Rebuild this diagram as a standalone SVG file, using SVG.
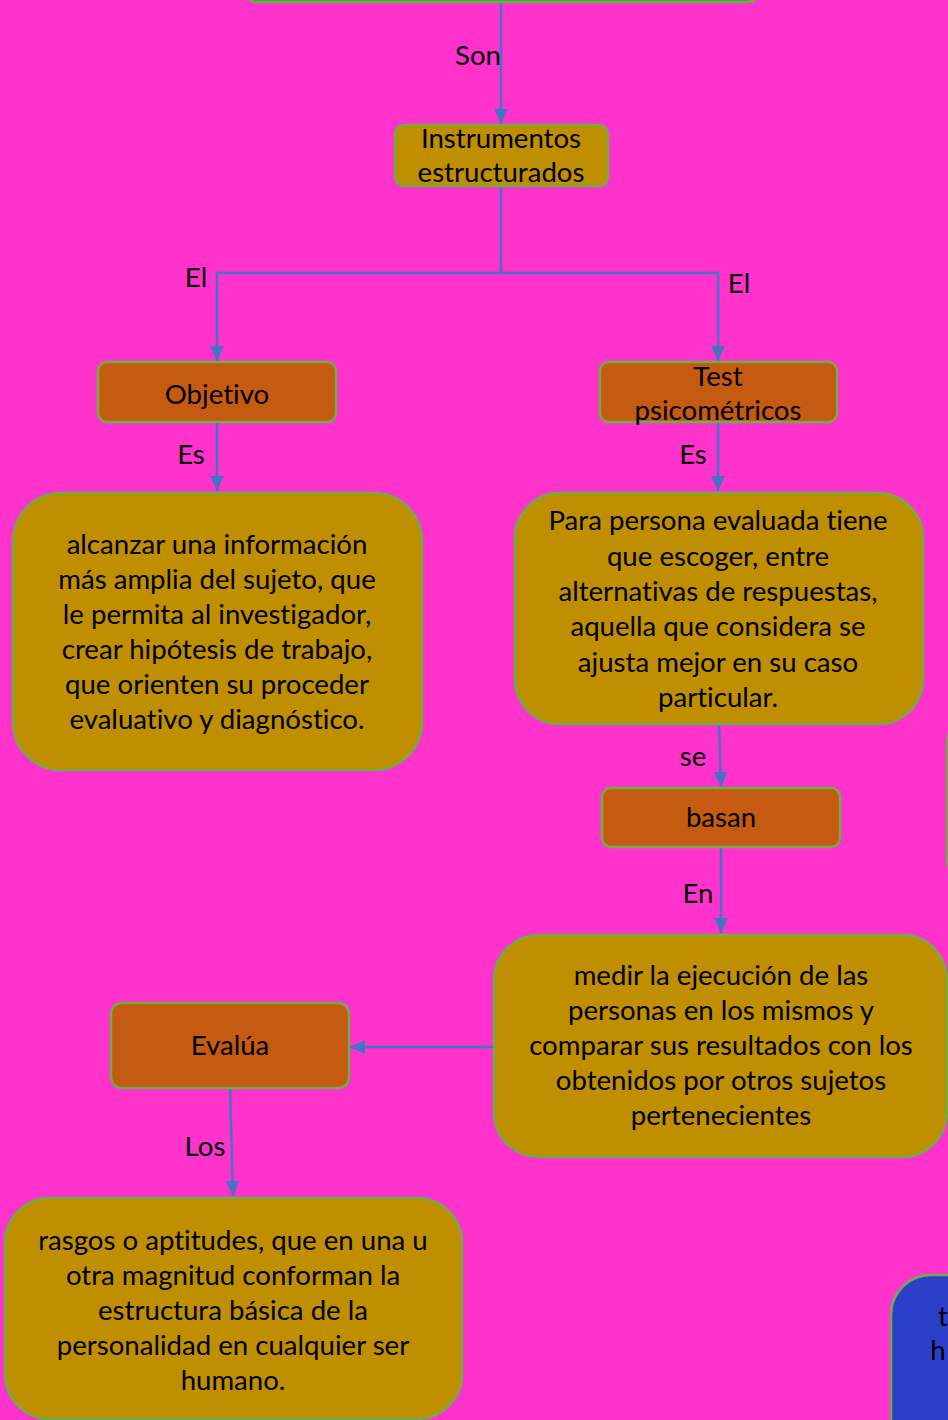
<svg xmlns="http://www.w3.org/2000/svg" width="948" height="1420" viewBox="0 0 948 1420">
<defs>
<marker id="ah" markerUnits="userSpaceOnUse" markerWidth="16" markerHeight="16" viewBox="0 0 16 16" refX="15" refY="8" orient="auto">
<path d="M0,1 L15,8 L0,15 Z" fill="#4472c4"/>
</marker>
<style>
.bg{fill:#ff33cc}
.gold{fill:#bf8f00;stroke:#70ad47;stroke-width:2.5}
.orange{fill:#c55a11;stroke:#70ad47;stroke-width:2.5}
.blue{fill:#2b3fc9;stroke:#70ad47;stroke-width:2.5}
.green{fill:#2fa84f;stroke:#70ad47;stroke-width:2.5}
.conn{fill:none;stroke:#4472c4;stroke-width:2.5}
text{font-family:Lato,"Liberation Sans",sans-serif;font-size:27.6px;fill:#000;text-anchor:middle;font-variant-ligatures:none}
</style>
</defs>
<rect class="bg" x="0" y="0" width="948" height="1420"/>

<g id="connectors">
<path class="conn" d="M501,3 L501,124" marker-end="url(#ah)"/>
<path class="conn" d="M501,186 L501,273 L217,273 L217,361" marker-end="url(#ah)"/>
<path class="conn" d="M501,273 L718,273 L718,361" marker-end="url(#ah)"/>
<path class="conn" d="M217,422 L217,491" marker-end="url(#ah)"/>
<path class="conn" d="M718,422 L718,491" marker-end="url(#ah)"/>
<path class="conn" d="M719,724 L721,787" marker-end="url(#ah)"/>
<path class="conn" d="M721,847 L721,933" marker-end="url(#ah)"/>
<path class="conn" d="M494,1047 L350,1047" marker-end="url(#ah)"/>
<path class="conn" d="M230,1088 L233,1196" marker-end="url(#ah)"/>
<text x="478" y="65">Son</text>
<text x="196" y="287">El</text>
<text x="739" y="293">El</text>
<text x="191" y="464">Es</text>
<text x="693" y="464">Es</text>
<text x="693" y="766">se</text>
<text x="698" y="903">En</text>
<text x="205" y="1156">Los</text>
</g>

<g id="top-node">
<rect class="green" x="242" y="-60" width="520" height="62" rx="15"/>
</g>

<g id="instrumentos">
<rect class="gold" x="395" y="125" width="213" height="61" rx="9"/>
<text x="501" y="148">Instrumentos</text>
<text x="501" y="182">estructurados</text>
</g>

<g id="objetivo">
<rect class="orange" x="98" y="362" width="238" height="60" rx="9"/>
<text x="217" y="404">Objetivo</text>
</g>

<g id="test">
<rect class="orange" x="600" y="362" width="237" height="60" rx="9"/>
<text x="718" y="386">Test</text>
<text x="718" y="420">psicométricos</text>
</g>

<g id="objetivo-desc">
<rect class="gold" x="13" y="493" width="409" height="277" rx="48"/>
<text x="217" y="554">alcanzar una información</text>
<text x="217" y="589">más amplia del sujeto, que</text>
<text x="217" y="624">le permita al investigador,</text>
<text x="217" y="659">crear hipótesis de trabajo,</text>
<text x="217" y="694">que orienten su proceder</text>
<text x="217" y="729">evaluativo y diagnóstico.</text>
</g>

<g id="test-desc">
<rect class="gold" x="515" y="493" width="408" height="231" rx="45"/>
<text x="718" y="530">Para persona evaluada tiene</text>
<text x="718" y="565.6">que escoger, entre</text>
<text x="718" y="601">alternativas de respuestas,</text>
<text x="718" y="636.4">aquella que considera se</text>
<text x="718" y="672">ajusta mejor en su caso</text>
<text x="718" y="707">particular.</text>
</g>

<g id="right-partial">
<rect class="gold" x="947" y="705" width="300" height="192" rx="40"/>
</g>

<g id="basan">
<rect class="orange" x="602" y="788" width="238" height="59" rx="9"/>
<text x="721" y="827">basan</text>
</g>

<g id="medir">
<rect class="gold" x="494" y="935" width="453" height="222" rx="45"/>
<text x="721" y="985">medir la ejecución de las</text>
<text x="721" y="1020">personas en los mismos y</text>
<text x="721" y="1055">comparar sus resultados con los</text>
<text x="721" y="1090">obtenidos por otros sujetos</text>
<text x="721" y="1125">pertenecientes</text>
</g>

<g id="evalua">
<rect class="orange" x="111" y="1003" width="238" height="85" rx="11"/>
<text x="230" y="1055">Evalúa</text>
</g>

<g id="rasgos">
<rect class="gold" x="5" y="1198" width="457" height="221" rx="45"/>
<text x="233" y="1250">rasgos o aptitudes, que en una u</text>
<text x="233" y="1285">otra magnitud conforman la</text>
<text x="233" y="1320">estructura básica de la</text>
<text x="233" y="1355">personalidad en cualquier ser</text>
<text x="233" y="1390">humano.</text>
</g>

<g id="blue-partial">
<rect class="blue" x="891" y="1275" width="300" height="200" rx="40"/>
<text x="943" y="1326">t</text>
<text x="938" y="1360">h</text>
</g>
</svg>
